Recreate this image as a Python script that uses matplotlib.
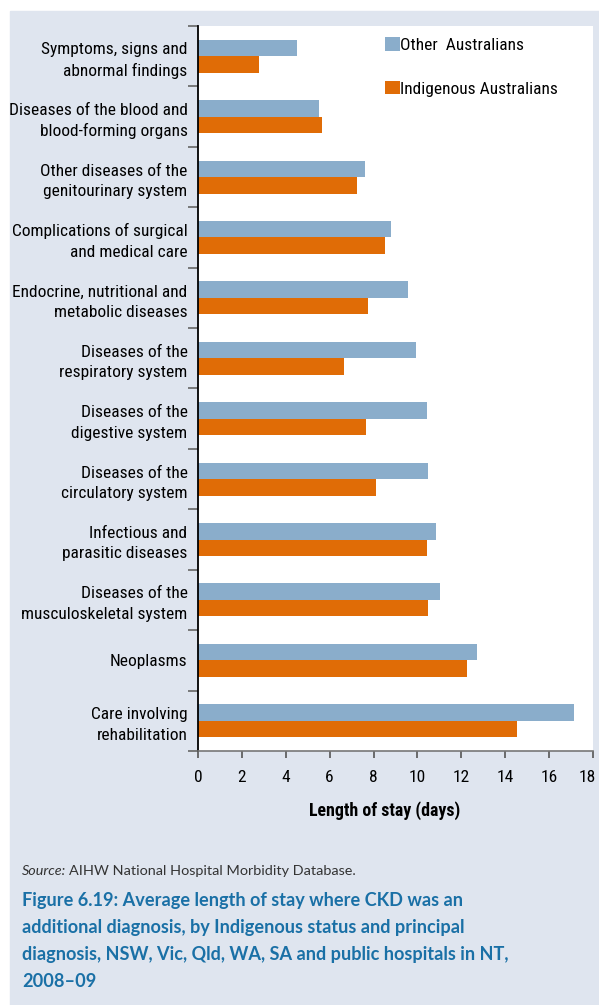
#!/usr/bin/env python
# -*- coding: utf-8 -*-

"""
CKD additional diagnosis - average length of stay by Indigenous status
"""

import matplotlib
matplotlib.use('Agg')
import matplotlib.pyplot as plt
from matplotlib import font_manager
from matplotlib.patches import Rectangle
from matplotlib.transforms import ScaledTranslation
import numpy as np

# 数据
categories = [
    'Symptoms, signs and\nabnormal findings',
    'Diseases of the blood and\nblood-forming organs',
    'Other diseases of the\ngenitourinary system',
    'Complications of surgical\nand medical care',
    'Endocrine, nutritional and\nmetabolic diseases',
    'Diseases of the\nrespiratory system',
    'Diseases of the\ndigestive system',
    'Diseases of the\ncirculatory system',
    'Infectious and\nparasitic diseases',
    'Diseases of the\nmusculoskeletal system',
    'Neoplasms',
    'Care involving\nrehabilitation',
]
other_vals = [4.5, 5.5, 7.6, 8.8, 9.55, 9.95, 10.45, 10.5, 10.85, 11.05, 12.7, 17.15]
indig_vals = [2.8, 5.65, 7.25, 8.5, 7.75, 6.65, 7.65, 8.1, 10.45, 10.5, 12.25, 14.55]
series_names = ['Other  Australians', 'Indigenous Australians']
x_ticks = list(range(0, 19, 2))

# 样式
W, H = 599, 1005
PANEL = '#dfe5ef'
BLUE = '#8aadcb'
ORANGE = '#e06c06'
CAPTION = '#1a70a6'

# 选择窄字体(没有的话用Roboto)
installed = {f.name for f in font_manager.fontManager.ttflist}
narrow_fam, fs = 'Roboto', 10.6
for cand in ['Liberation Sans Narrow', 'Roboto Condensed', 'Noto Sans Condensed',
             'Open Sans Condensed', 'Arial Narrow']:
    if cand in installed:
        narrow_fam, fs = cand, 12.5
        break
plt.rcParams['font.family'] = [narrow_fam, 'DejaVu Sans']
SERIF = ['Lato', 'DejaVu Sans']

fig = plt.figure(figsize=(W / 100, H / 100), dpi=100)
fig.patch.set_facecolor('white')
# 背景面板
fig.patches.append(Rectangle((10 / W, 0), (W - 10) / W, (H - 11) / H,
                             transform=fig.transFigure, color=PANEL, zorder=-10))

ax = fig.add_axes([198 / W, 1 - 751 / H, 395 / W, 725 / H])
ax.set_facecolor('white')

y = np.arange(len(categories))
bh = 0.273
ax.barh(y - bh / 2, other_vals, height=bh, color=BLUE, label=series_names[0])
ax.barh(y + bh / 2, indig_vals, height=bh, color=ORANGE, label=series_names[1])

ax.set_ylim(len(categories) - 0.5, -0.5)
ax.set_xlim(0, 18)

# Y轴
ax.set_yticks(y)
ax.set_yticklabels(categories, fontsize=fs, linespacing=1.45)
ax.tick_params(axis='y', which='major', length=0, pad=7.5)
ax.set_yticks(np.arange(-0.5, len(categories)), minor=True)
ax.tick_params(axis='y', which='minor', length=7.5, width=1.2, color='#666666')

# X轴
ax.set_xticks(x_ticks)
ax.set_xticklabels([str(v) for v in x_ticks], fontsize=fs)
ax.tick_params(axis='x', length=5, width=1.2, color='#555555', pad=9)
# 最后一个标签稍向左移，避免出界
last = ax.get_xticklabels()[-1]
last.set_transform(last.get_transform() + ScaledTranslation(-0.055, 0, fig.dpi_scale_trans))

for s in ['top', 'right']:
    ax.spines[s].set_visible(False)
ax.spines['left'].set_color('black')
ax.spines['left'].set_linewidth(1.3)
ax.spines['bottom'].set_color('#777777')
ax.spines['bottom'].set_linewidth(1.2)

fig.text(385 / W, 1 - 811 / H, 'Length of stay (days)', fontsize=fs + 0.4, fontweight='bold',
         ha='center', va='center')

# 图例
ax.legend(loc='upper left', bbox_to_anchor=(0.473, 0.985), frameon=False, fontsize=fs,
          handlelength=0.85, handleheight=0.85, handletextpad=0.05, labelspacing=1.6,
          borderpad=0, borderaxespad=0)

# 来源
renderer = fig.canvas.get_renderer()
t1 = fig.text(22 / W, 1 - 875 / H, 'Source:', fontsize=10.4, style='italic',
              family=SERIF, color='#333333', va='baseline')
bb = t1.get_window_extent(renderer)
fig.text(bb.x1 / W + 3 / W, 1 - 875 / H, 'AIHW National Hospital Morbidity Database.',
         fontsize=10.4, family=SERIF, color='#333333', va='baseline')

# 标题(逐行绘制)
caption_lines = ['Figure 6.19: Average length of stay where CKD was an',
                 'additional diagnosis, by Indigenous status and principal',
                 'diagnosis, NSW, Vic, Qld, WA, SA and public hospitals in NT,',
                 '2008\u201309']
for i, line in enumerate(caption_lines):
    fig.text(22 / W, 1 - (906 + 27 * i) / H, line, fontsize=13.1, fontweight='bold',
             family=SERIF, color=CAPTION, va='baseline')

plt.savefig('out.png', dpi=100)
